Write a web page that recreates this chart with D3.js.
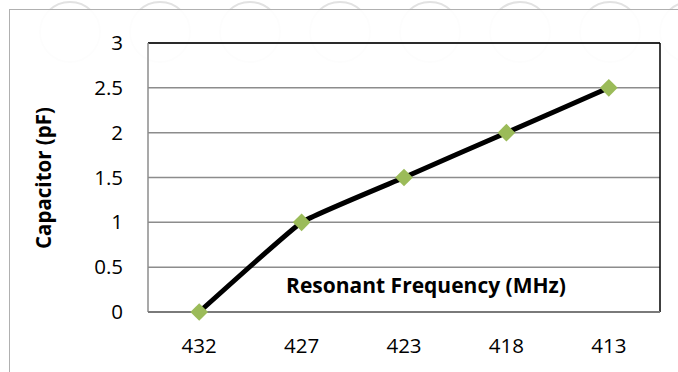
<!DOCTYPE html>
<html><head><meta charset="utf-8">
<script src="https://cdn.jsdelivr.net/npm/d3@7"></script>
<style>body{margin:0;background:#fff;}svg{display:block;font-family:"Open Sans",Lato,sans-serif;}</style>
</head><body><svg id="c" width="678" height="372"></svg>
<script>
const categories = ["432","427","423","418","413"];
const capacitance = [0, 1, 1.5, 2, 2.5];
const yTicks = [0, 0.5, 1, 1.5, 2, 2.5, 3];
const xTitle = "Resonant Frequency (MHz)";
const yTitle = "Capacitor (pF)";

const svg = d3.select("#c");
// faint watermark arcs
const wm = svg.append("g").attr("fill","none").attr("stroke","#e2e2e2").attr("stroke-width",2);
[70,160,250,340,430,520,610,690].forEach((cx,i)=>{
  wm.append("circle").attr("cx",cx).attr("cy",32).attr("r",30);
});
// outer frame
svg.append("rect").attr("x",9.5).attr("y",9.5).attr("width",700).attr("height",400)
  .attr("fill","#fff").attr("fill-opacity",0.93).attr("stroke","#b0b0b0").attr("stroke-width",1);

const L=148, R=660, T=43, B=312;
const x = d3.scaleBand().domain(categories).range([L,R]);
const y = d3.scaleLinear().domain([0,3]).range([B,T]);

// gridlines
svg.append("g").selectAll("line").data(yTicks).join("line")
  .attr("x1",L).attr("x2",R).attr("y1",d=>y(d)).attr("y2",d=>y(d))
  .attr("stroke","#8c8c8c").attr("stroke-width",1.5);
// plot border
svg.append("line").attr("x1",L).attr("x2",R).attr("y1",T).attr("y2",T).attr("stroke","#000").attr("stroke-width",1.5);
svg.append("line").attr("x1",R).attr("x2",R).attr("y1",T).attr("y2",B).attr("stroke","#000").attr("stroke-width",1.5);
svg.append("line").attr("x1",L).attr("x2",L).attr("y1",T).attr("y2",B).attr("stroke","#8c8c8c").attr("stroke-width",1.5);
svg.append("line").attr("x1",L).attr("x2",R).attr("y1",B).attr("y2",B).attr("stroke","#7a7a7a").attr("stroke-width",2);

// y axis labels
const yAxis = d3.axisLeft(y).tickValues(yTicks).tickSize(0).tickPadding(25).tickFormat(d3.format("~g"));
const ya = svg.append("g").attr("transform",`translate(${L},0)`).call(yAxis);
ya.select(".domain").remove();
ya.selectAll("text").attr("font-size",20.5).attr("fill","#000").attr("font-family","'Open Sans',sans-serif");

// x axis labels
const xAxis = d3.axisBottom(x).tickSize(0);
const xa = svg.append("g").attr("transform",`translate(0,${B})`).call(xAxis);
xa.select(".domain").remove();
xa.selectAll("text").attr("font-size",20.5).attr("fill","#000").attr("font-family","'Open Sans',sans-serif")
  .attr("dy",null).attr("y",41);

// titles
svg.append("text").attr("x",426).attr("y",293).attr("text-anchor","middle")
  .attr("font-size",21).attr("font-weight","bold").attr("fill","#000").text(xTitle);
svg.append("text").attr("transform","translate(51,178) rotate(-90)").attr("text-anchor","middle")
  .attr("font-size",20.5).attr("font-weight","bold").attr("fill","#000").text(yTitle);

// line
const pts = categories.map((c,i)=>[x(c)+x.bandwidth()/2, y(capacitance[i])]);
svg.append("path").attr("d", d3.line().curve(d3.curveCardinal.tension(0.7))(pts))
  .attr("fill","none").attr("stroke","#000").attr("stroke-width",5).attr("stroke-linejoin","round");
// markers
svg.append("g").selectAll("path").data(pts).join("path")
  .attr("d", d3.symbol(d3.symbolDiamond2, 200))
  .attr("transform", d=>`translate(${d[0]},${d[1]})`)
  .attr("fill","#9bbb59");
</script></body></html>
